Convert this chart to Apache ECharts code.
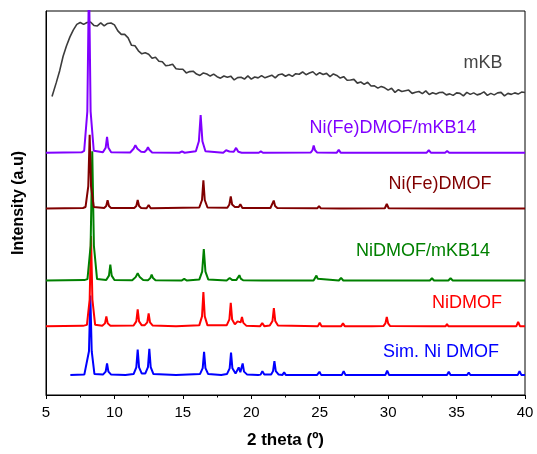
<!DOCTYPE html>
<html lang="en">
<head>
    <meta charset="UTF-8">
    <title>XRD patterns</title>
    <script src="https://cdn.jsdelivr.net/npm/echarts@6/dist/echarts.min.js"></script>
</head>
<body style="margin:0">
<div id="chart" style="width: 537px;height:454px;"></div>
<script>
    // 2 theta (deg) vs intensity (a.u., offset per pattern)
    var mKB = [
        [5.44,300],[5.5,302],[5.75,314],[6.0,326],[6.25,340.5],[6.5,351],[6.75,360],[7.0,367],[7.25,372.5],[7.5,374.5],
        [7.75,372.5],[8.0,374.5],[8.25,375],[8.5,371.5],[8.75,371],[9.0,374],[9.25,371],[9.5,373.5],[9.75,374],[10.0,372],
        [10.25,366],[10.5,362.5],[10.75,362.5],[11.0,359],[11.25,351.5],[11.5,351],[11.75,346],[12.0,343],[12.25,344],[12.5,342.5],
        [12.75,338.5],[13.0,339.5],[13.25,335.5],[13.5,335],[13.75,331],[14.0,331.5],[14.25,332.5],[14.5,328],[14.75,327.5],[15.0,327.5],
        [15.25,323.8],[15.5,325.1],[15.75,325.5],[16.0,322.6],[16.25,321.2],[16.5,323.7],[16.75,322.7],[17.0,320.6],[17.25,322.5],[17.5,320],
        [17.75,318.5],[18.0,320.7],[18.25,319.3],[18.5,320.5],[18.75,316.7],[19.0,319],[19.25,319.4],[19.5,317.6],[19.75,320.8],[20.0,317.5],
        [20.25,319.7],[20.5,318.8],[20.75,321],[21.0,318.8],[21.25,320.2],[21.5,321.5],[21.75,318.8],[22.0,322],[22.25,322.7],[22.5,320.4],
        [22.75,322.1],[23.0,320.3],[23.25,323],[23.5,322.4],[23.75,324.7],[24.0,322],[24.25,323.7],[24.5,324.9],[24.75,321.7],[25.0,324],
        [25.25,322.2],[25.5,323.3],[25.75,320],[26.0,322.7],[26.25,321.2],[26.5,318.6],[26.75,320],[27.0,316.4],[27.25,316.6],[27.5,317.3],
        [27.75,313.5],[28.0,314.6],[28.25,312.3],[28.5,314.4],[28.75,310.6],[29.0,310.8],[29.25,308.5],[29.5,310.2],[29.75,308.8],[30.0,306.5],
        [30.25,308.3],[30.5,304.2],[30.75,306.9],[31.0,305.1],[31.25,305.8],[31.5,306.5],[31.75,303.2],[32.0,304.4],[32.25,305.1],[32.5,302.9],
        [32.75,305.7],[33.0,302],[33.25,303.8],[33.5,302.6],[33.75,304],[34.0,304.3],[34.25,301.7],[34.5,302.7],[34.75,301.2],[35.0,303.7],
        [35.25,303.2],[35.5,300.7],[35.75,304.2],[36.0,302.2],[36.25,303.7],[36.5,301.7],[36.75,302.7],[37.0,304.7],[37.25,301.2],[37.5,303.2],
        [37.75,301.7],[38.0,303.7],[38.25,304.2],[38.5,300.7],[38.75,303.2],[39.0,302.2],[39.25,303.7],[39.5,302.5],[39.75,304.5],[40.0,304]
    ];

    var simNiDMOF = [
        [6.78,20],[7.8,20.5],
        [7.94,21],[8.14,44],[8.24,100],[8.34,44],[8.54,21],
        [9.16,20.5],[9.36,23.5],[9.46,31.7],[9.56,23.5],[9.76,20.5],[10.8,20],
        [11.4,21],[11.6,27.7],[11.7,45.7],[11.8,27.7],[12.0,21.5],
        [12.25,21.5],[12.45,28],[12.55,46.4],[12.65,28],[12.85,21],[14.5,20],
        [16.25,21],[16.45,27],[16.55,43.4],[16.65,27],[16.85,21],[17.8,20],
        [18.22,21],[18.42,26.8],[18.52,42.7],[18.62,26.8],[18.85,21.5],
        [18.98,22.5],[19.08,27.7],[19.2,23],[19.27,24],[19.37,31.7],[19.47,23.5],[19.7,20.5],[20.5,20],
        [20.68,20.5],[20.81,24],[20.95,20.5],
        [21.45,20.5],[21.59,24],[21.69,34],[21.79,24],[22.0,20.5],
        [22.28,20.2],[22.4,22.7],[22.52,20.2],[24.8,20],
        [24.86,20.2],[24.98,23.4],[25.1,20.2],
        [26.62,20.2],[26.75,24],[26.88,20.2],
        [28.58,20],[28.7,21.7],[28.82,20],
        [29.8,20.2],[29.93,24.4],[30.06,20.2],
        [31.75,20],[31.85,20.8],[31.95,20],
        [33.22,20],[33.33,21.2],[33.44,20],
        [34.3,20.2],[34.43,23.4],[34.56,20.2],
        [35.77,20.1],[35.89,22.7],[36.01,20.1],
        [37.4,20],[37.5,21.2],[37.6,20],
        [39.47,20.2],[39.6,24],[39.73,20.2],[40,20]
    ];

    var niDMOF = [
        [5,69],[7.7,69.5],
        [7.99,70.5],[8.19,96],[8.29,159.7],[8.39,96],[8.59,70.5],
        [9.11,69.5],[9.31,72],[9.41,79],[9.51,72],[9.71,69.5],
        [11.4,69.8],[11.6,74],[11.7,86],[11.8,74],[12.0,70],
        [12.2,70],[12.4,73],[12.5,82],[12.6,73],[12.8,69.8],[14.5,69],
        [16.2,70],[16.4,79],[16.5,103.4],[16.6,79],[16.8,70],
        [18.2,70],[18.4,76],[18.5,92.7],[18.6,76],[18.8,71],
        [18.92,72],[19.0,74],[19.12,72],[19.22,73],[19.32,78.4],[19.42,72.5],[19.65,69.5],
        [20.65,69.2],[20.8,72.4],[20.95,69.2],
        [21.35,69.8],[21.55,74.5],[21.65,87.4],[21.75,74.5],[21.95,69.8],
        [24.87,69.2],[25.0,72.7],[25.13,69.2],
        [26.57,69.2],[26.7,72],[26.83,69.2],
        [28.6,69],[28.7,71],[28.8,69],
        [29.65,69.3],[29.8,72],[29.9,78.4],[30.0,72],[30.15,69.3],
        [33.2,69],[33.3,70.7],[33.4,69],
        [34.2,69],[34.3,71.4],[34.4,69],
        [39.37,69.2],[39.5,73.4],[39.63,69.2],[40,69]
    ];

    var niDMOFmKB = [
        [5,115],[7.8,115.5],
        [8.03,116.5],[8.26,150],[8.38,245],[8.5,150],[8.73,116.5],
        [9.4,115.5],[9.6,120],[9.7,131],[9.8,120],[10.0,115.5],
        [11.3,115.3],[11.55,118.5],[11.7,122.4],[11.85,118.5],[12.1,115.5],
        [12.45,115.3],[12.62,117.5],[12.72,121],[12.82,117.5],[13.0,115.3],
        [14.9,115],[15.1,116.7],[15.3,115],
        [16.2,116],[16.41,124],[16.53,146.7],[16.65,124],[16.86,116],
        [18.2,115.2],[18.42,117.7],[18.62,115.5],
        [18.9,115.5],[19.03,117],[19.13,120.4],[19.23,117],[19.4,115.3],
        [20.8,115],[20.94,115.8],[21.1,115],
        [24.55,115.2],[24.68,116.8],[24.76,120],[24.86,116.8],[25.0,115.2],
        [26.4,115.1],[26.56,117.7],[26.72,115.1],
        [30.05,115],[30.17,115.8],[30.3,115],
        [33.05,115.1],[33.2,117.4],[33.35,115.1],
        [34.4,115.1],[34.56,117.4],[34.72,115.1],
        [39.68,115],[39.8,116.2],[39.92,115],[40,115]
    ];

    var niFeDMOF = [
        [5,187.5],[7.7,188],
        [7.89,189],[8.09,210],[8.19,261.7],[8.29,210],[8.49,189],
        [9.25,188],[9.4,190],[9.5,195.7],[9.6,190],[9.75,188],
        [11.45,188],[11.6,190],[11.7,196],[11.8,190],[11.95,188],
        [12.35,187.7],[12.5,191],[12.65,187.7],
        [16.2,188.5],[16.4,196],[16.5,215.7],[16.6,196],[16.8,188.5],
        [18.25,188.3],[18.4,191.5],[18.5,199.7],[18.6,191.5],[18.8,189],
        [19.08,189],[19.2,191.7],[19.35,188],
        [21.4,188],[21.54,190],[21.64,195.4],[21.74,190],[21.9,188],
        [24.82,187.6],[24.95,190],[25.08,187.6],
        [26.48,187.5],[26.6,188.8],[26.72,187.5],
        [29.76,187.7],[29.9,192],[30.04,187.7],
        [34.28,187.5],[34.4,188.8],[34.52,187.5],
        [39.38,187.5],[39.5,188.8],[39.62,187.5],[40,187.5]
    ];

    var niFeDMOFmKB = [
        [5,243.5],[7.6,244],
        [7.79,245.5],[8.02,285],[8.14,420],[8.26,285],[8.49,245.5],
        [9.16,244],[9.36,248.5],[9.46,259.4],[9.56,248.5],[9.76,244],
        [11.15,243.8],[11.4,247.5],[11.53,251],[11.68,247.5],[11.95,244.5],
        [12.2,244.2],[12.36,246.5],[12.45,249],[12.55,246.5],[12.75,243.8],
        [14.75,243.5],[14.94,244.8],[15.13,243.5],
        [15.95,245],[16.17,255],[16.3,281.4],[16.43,255],[16.65,245],
        [17.95,243.6],[18.16,246],[18.4,244.8],
        [18.72,244.5],[18.89,248.4],[19.05,244.5],[19.3,243.6],
        [20.55,243.5],[20.7,244.8],[20.85,243.5],
        [24.35,243.8],[24.47,246],[24.56,250.7],[24.66,246],[24.8,243.8],
        [26.25,243.6],[26.39,246.4],[26.53,243.6],
        [29.8,243.5],[29.93,244.3],[30.06,243.5],
        [32.82,243.6],[32.97,246],[33.12,243.6],
        [34.16,243.5],[34.31,245.2],[34.46,243.5],
        [39.42,243.5],[39.55,244.9],[39.68,243.5],[40,243.5]
    ];

    var names = ['mKB', 'Sim. Ni DMOF', 'NiDMOF', 'NiDMOF/mKB14', 'Ni(Fe)DMOF', 'Ni(Fe)DMOF/mKB14'];
    var colors = ['#3c3c3c', '#0000ff', '#ff0000', '#008000', '#800000', '#8000ff'];
    var allData = [mKB, simNiDMOF, niDMOF, niDMOFmKB, niFeDMOF, niFeDMOFmKB];
    var widths = [1.6, 2, 2, 2, 2, 2];

    // label centres in pixels
    var labelPos = [[483, 63], [441, 352], [467, 303], [423, 251], [440, 184], [393, 128]];

    var chartDom = document.getElementById('chart');
    var myChart = echarts.init(chartDom);

    var series = [];
    for (var i = 0; i < allData.length; i++) {
        series.push({
            name: names[i],
            type: 'line',
            data: allData[i],
            showSymbol: false,
            clip: true,
            lineStyle: { color: colors[i], width: widths[i] },
            animation: false
        });
    }

    var texts = [];
    for (var j = 0; j < names.length; j++) {
        texts.push({
            type: 'text',
            x: labelPos[j][0],
            y: labelPos[j][1],
            style: {
                text: names[j],
                fill: j === 0 ? '#444444' : colors[j],
                font: '18px "Liberation Sans", Arial, sans-serif',
                textAlign: 'center',
                textVerticalAlign: 'middle'
            }
        });
    }

    var option = {
        animation: false,
        grid: {
            left: 46, right: 12, top: 11, bottom: 57,
            show: true, borderColor: '#000', borderWidth: 1
        },
        xAxis: {
            type: 'value',
            min: 5, max: 40, interval: 5,
            name: '2 theta (\u00BA)',
            nameLocation: 'middle',
            nameGap: 37,
            nameTextStyle: { fontSize: 17, fontWeight: 'bold', color: '#000', fontFamily: '"Liberation Sans", Arial, sans-serif' },
            axisLine: { lineStyle: { color: '#000', width: 1 } },
            axisTick: { inside: false, length: 4, lineStyle: { color: '#000' } },
            minorTick: { show: true, splitNumber: 2, length: 2.5, lineStyle: { color: '#000' } },
            axisLabel: { fontSize: 15, color: '#000', margin: 10, fontFamily: '"Liberation Sans", Arial, sans-serif' },
            splitLine: { show: false }
        },
        yAxis: {
            type: 'value',
            min: 0, max: 386,
            name: 'Intensity (a.u)',
            nameLocation: 'middle',
            nameGap: 19,
            nameTextStyle: { fontSize: 16, fontWeight: 'bold', color: '#000', fontFamily: '"Liberation Sans", Arial, sans-serif' },
            axisLine: { show: true, lineStyle: { color: '#000', width: 1 } },
            axisTick: { show: false },
            axisLabel: { show: false },
            splitLine: { show: false }
        },
        series: series,
        graphic: texts
    };

    myChart.setOption(option);
</script>
</body>
</html>
